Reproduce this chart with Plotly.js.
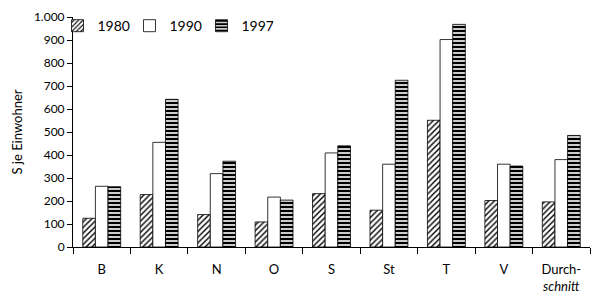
<!DOCTYPE html>
<html>
<head>
<meta charset="utf-8">
<script src="https://cdn.plot.ly/plotly-3.0.1.min.js"></script>
<style>html,body{margin:0;padding:0;background:#fff;}#chart{width:595px;height:305px;}</style>
</head>
<body>
<div id="chart"></div>
<script>
const categories = ["B", "K", "N", "O", "S", "St", "T", "V", "Durch-<br><i>schnitt</i>"];
const v1980 = [125, 228, 141, 109, 232, 160, 551, 202, 196];
const v1990 = [264, 455, 319, 217, 409, 360, 902, 360, 380];
const v1997 = [262, 642, 373, 204, 440, 725, 968, 352, 485];
const yTickVals = [0, 100, 200, 300, 400, 500, 600, 700, 800, 900, 1000];
const yTickText = ["0", "100", "200", "300", "400", "500", "600", "700", "800", "900", "1.000"];

const line = {color: "#000", width: 0.8};
const traces = [
  {type: "bar", name: "1980", x: categories, y: v1980,
   marker: {color: "#fff", line: line, pattern: {shape: "/", fgcolor: "#000", bgcolor: "#fff", size: 4, solidity: 0.35}}},
  {type: "bar", name: "1990", x: categories, y: v1990,
   marker: {color: "#fff", line: line}},
  {type: "bar", name: "1997", x: categories, y: v1997,
   marker: {color: "#fff", line: line, pattern: {shape: "-", fgcolor: "#000", bgcolor: "#fff", size: 4, solidity: 0.6}}}
];

const layout = {
  width: 595, height: 305,
  margin: {l: 73, r: 5, t: 17, b: 58},
  paper_bgcolor: "#fff", plot_bgcolor: "#fff",
  font: {family: "Lato, 'DejaVu Sans', sans-serif", size: 12, color: "#000"},
  barmode: "group", bargap: 0.34, bargroupgap: 0,
  showlegend: true,
  legend: {orientation: "h", x: -0.03, xanchor: "left", y: 1.03, yanchor: "top",
           entrywidth: 27, entrywidthmode: "pixels", font: {size: 14}, bgcolor: "rgba(0,0,0,0)", itemwidth: 30},
  xaxis: {type: "category", range: [-0.5, 8.5], showline: true, linecolor: "#000", linewidth: 1,
          ticks: "outside", tickson: "boundaries", ticklen: 6, tickcolor: "#000",
          showgrid: false, zeroline: false, ticklabelstandoff: 10, tickfont: {size: 13}},
  yaxis: {range: [0, 1000], showline: true, linecolor: "#000", linewidth: 1,
          ticks: "outside", ticklen: 5, tickcolor: "#000", showgrid: false, zeroline: false,
          tickvals: yTickVals, ticktext: yTickText, tickfont: {size: 12},
          title: {text: "S je Einwohner", font: {size: 13}, standoff: 8}}
};

Plotly.newPlot("chart", traces, layout, {displayModeBar: false, staticPlot: true});
</script>
</body>
</html>
